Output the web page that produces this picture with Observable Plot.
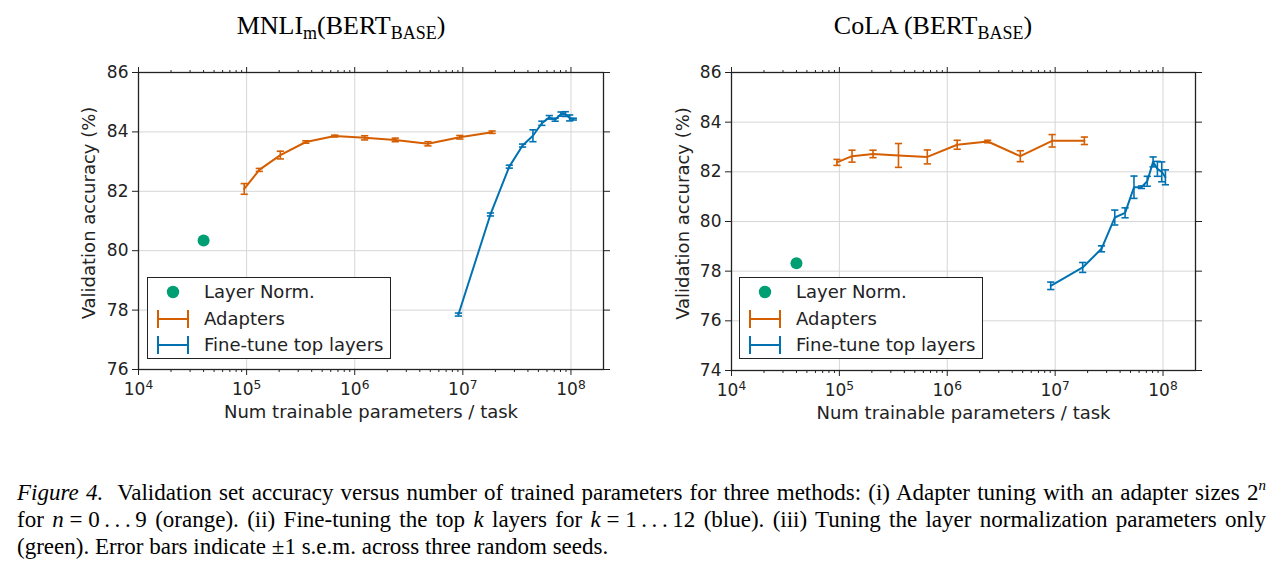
<!DOCTYPE html>
<html>
<head>
<meta charset="utf-8">
<script src="https://cdn.jsdelivr.net/npm/d3@7"></script>
<script src="https://cdn.jsdelivr.net/npm/@observablehq/plot@0.6"></script>
<style>
  html, body { margin: 0; padding: 0; background: #fff; }
  #root { position: relative; width: 1282px; height: 568px; overflow: hidden; background: #fff; }
  .panel { position: absolute; top: 0; }
  .title { position: absolute; top: 13px; width: 420px; text-align: center; font-family: "Liberation Serif", serif; font-size: 26px; line-height: 26px; color: #000; white-space: nowrap; }
  .title sub { font-size: 18px; vertical-align: -5px; line-height: 0; }
  .legend { position: absolute; top: 277px; height: 82px; border: 1.3px solid #222; background: #fff; box-sizing: border-box; font-family: "DejaVu Sans", sans-serif; font-size: 18px; color: #222; }
  .legend .row { position: absolute; left: 0; height: 26px; width: 100%; }
  .legend .row svg { position: absolute; left: 8px; top: 0; }
  .legend .row span { position: absolute; left: 56px; top: 2px; line-height: 22px; white-space: nowrap; }
  .cap { position: absolute; left: 17px; width: 1249px; font-family: "Liberation Serif", serif; font-size: 23px; line-height: 27px; color: #000; white-space: nowrap; }
  .just { text-align: justify; text-align-last: justify; }
  .cap i { font-style: italic; }
</style>
</head>
<body>
<div id="root"></div>
<script>
// ---------- data ----------
const xTickValues = [1e4, 1e5, 1e6, 1e7, 1e8];
const xTickExponents = ["4", "5", "6", "7", "8"];

const adapterParams = [95000, 131000, 205000, 353000, 653000, 1236000, 2371000, 4753000, 9376000, 18660000];
const finetuneParams = [9.1e6, 1.8e7, 2.69e7, 3.57e7, 4.45e7, 5.38e7, 6.31e7, 7.14e7, 8.09e7, 8.87e7, 9.73e7, 1.052e8];
const layerNormParams = [40000];

const mnliYTicks = [76, 78, 80, 82, 84, 86];
const mnliAdapterAcc = [82.08, 82.72, 83.22, 83.66, 83.86, 83.80, 83.73, 83.60, 83.82, 83.99];
const mnliAdapterErr = [0.18, 0.05, 0.13, 0.04, 0.03, 0.07, 0.06, 0.07, 0.06, 0.04];
const mnliFinetuneAcc = [77.85, 81.22, 82.83, 83.54, 83.87, 84.29, 84.49, 84.41, 84.60, 84.60, 84.47, 84.43];
const mnliFinetuneErr = [0.05, 0.05, 0.05, 0.05, 0.20, 0.07, 0.06, 0.05, 0.07, 0.08, 0.10, 0.03];
const mnliLayerNormAcc = [80.34];

const colaYTicks = [74, 76, 78, 80, 82, 84, 86];
const colaAdapterAcc = [82.38, 82.63, 82.72, 82.66, 82.60, 83.09, 83.22, 82.63, 83.25, 83.25];
const colaAdapterErr = [0.12, 0.24, 0.15, 0.48, 0.28, 0.18, 0.05, 0.22, 0.25, 0.15];
const colaFinetuneAcc = [77.41, 78.15, 78.90, 80.16, 80.35, 81.38, 81.38, 81.62, 82.40, 82.12, 82.00, 81.78];
const colaFinetuneErr = [0.15, 0.20, 0.12, 0.30, 0.20, 0.45, 0.05, 0.20, 0.20, 0.30, 0.40, 0.30];
const colaLayerNormAcc = [78.32];

const seriesNames = ["Layer Norm.", "Adapters", "Fine-tune top layers"];
const colors = { layerNorm: "#009e73", adapters: "#d55e00", finetune: "#0072b2" };

const xLabel = "Num trainable parameters / task";
const yLabel = "Validation accuracy (%)";

// ---------- helpers ----------
const xMinor = [];
for (let k = 4; k <= 8; k++) for (let m = 2; m <= 9; m++) { const v = m * 10 ** k; if (v < 2e8) xMinor.push(v); }

const capSymbol = { draw(ctx, size) { const r = Math.sqrt(size / Math.PI); ctx.moveTo(-r, 0); ctx.lineTo(r, 0); } };

function rows(xs, ys, es) { return xs.map((x, i) => ({ x, y: ys[i], e: es ? es[i] : 0 })); }

function errSeries(data, color) {
  return [
    Plot.line(data, { x: "x", y: "y", stroke: color, strokeWidth: 2 }),
    Plot.ruleX(data, { x: "x", y1: d => d.y - d.e, y2: d => d.y + d.e, stroke: color, strokeWidth: 1.6 }),
    Plot.dot(data, { x: "x", y: d => d.y + d.e, symbol: capSymbol, r: 3.6, stroke: color, strokeWidth: 1.6, fill: "none" }),
    Plot.dot(data, { x: "x", y: d => d.y - d.e, symbol: capSymbol, r: 3.6, stroke: color, strokeWidth: 1.6, fill: "none" })
  ];
}

function panel(o) {
  const adapters = rows(adapterParams, o.aAcc, o.aErr);
  const finetune = rows(finetuneParams, o.fAcc, o.fErr);
  const ln = rows(layerNormParams, o.lnAcc);
  const blank = () => "";
  const svg = Plot.plot({
    width: o.width, height: 440,
    marginLeft: o.ml, marginRight: o.mr, marginTop: o.mt, marginBottom: o.mb,
    x: { type: "log", domain: [1e4, 2e8], axis: null },
    y: { domain: o.yDomain, axis: null },
    style: { fontFamily: "DejaVu Sans, sans-serif", fontSize: "17px", color: "#222", background: "transparent", overflow: "visible" },
    marks: [
      Plot.gridX(xTickValues, { stroke: "#d6d6d6", strokeOpacity: 1, strokeWidth: 1 }),
      Plot.gridY(o.yTicks, { stroke: "#d6d6d6", strokeOpacity: 1, strokeWidth: 1 }),
      Plot.axisX(xTickValues, { anchor: "bottom", tickSize: 6, tickPadding: 7, tickFormat: d => "10^" + xTickExponents[xTickValues.indexOf(d)], label: null, fontSize: 17 }),
      Plot.axisX(xMinor, { anchor: "bottom", tickSize: 3, tickFormat: blank, label: null }),
      Plot.axisX(xTickValues, { anchor: "top", tickSize: 6, tickFormat: blank, label: null }),
      Plot.axisX(xMinor, { anchor: "top", tickSize: 3, tickFormat: blank, label: null }),
      Plot.axisY(o.yTicks, { anchor: "left", tickSize: 6, tickPadding: 4, label: null, fontSize: 17 }),
      Plot.axisY(o.yTicks, { anchor: "right", tickSize: 6, tickFormat: blank, label: null }),
      Plot.frame({ stroke: "#222", strokeWidth: 1.3 }),
      ...errSeries(adapters, colors.adapters),
      ...errSeries(finetune, colors.finetune),
      Plot.dot(ln, { x: "x", y: "y", r: 6, fill: colors.layerNorm, stroke: "none" }),
      Plot.text([xLabel], { frameAnchor: "bottom", dy: 48, fontSize: 18, fill: "#222" }),
      Plot.text([yLabel], { frameAnchor: "left", textAnchor: "middle", dx: o.ylabDx, dy: -8, rotate: -90, fontSize: 18, fill: "#222" })
    ]
  });
  // superscript exponents for the log tick labels
  d3.select(svg).selectAll("text").each(function () {
    const t = this.textContent;
    const m = /^10\^(\d)$/.exec(t);
    if (m) {
      const sel = d3.select(this);
      sel.text("10");
      sel.append("tspan").attr("dy", "-0.42em").attr("font-size", "0.72em").text(m[1]);
    }
  });
  return svg;
}

const root = document.getElementById("root");

function place(el, left) { el.classList.add("panel"); el.style.left = left + "px"; root.appendChild(el); }

place(panel({ width: 640, ml: 138, mr: 37, mt: 72, mb: 71, yDomain: [76, 86], yTicks: mnliYTicks,
  aAcc: mnliAdapterAcc, aErr: mnliAdapterErr, fAcc: mnliFinetuneAcc, fErr: mnliFinetuneErr, lnAcc: mnliLayerNormAcc, ylabDx: -49 }), 0);
place(panel({ width: 642, ml: 91, mr: 87, mt: 72, mb: 70, yDomain: [74, 86], yTicks: colaYTicks,
  aAcc: colaAdapterAcc, aErr: colaAdapterErr, fAcc: colaFinetuneAcc, fErr: colaFinetuneErr, lnAcc: colaLayerNormAcc, ylabDx: -48 }), 640);

// titles
function title(html, center) {
  const d = document.createElement("div"); d.className = "title"; d.innerHTML = html;
  d.style.left = (center - 210) + "px"; root.appendChild(d);
}
title("MNLI<sub>m</sub>(BERT<sub>BASE</sub>)", 341);
title("CoLA (BERT<sub>BASE</sub>)", 933);

// legends
function legend(left) {
  const d = document.createElement("div"); d.className = "legend"; d.style.left = left + "px"; d.style.width = "244px";
  const icons = [
    `<svg width="34" height="26"><circle cx="17" cy="13" r="6.2" fill="${colors.layerNorm}"/></svg>`,
    `<svg width="34" height="26"><g stroke="${colors.adapters}" stroke-width="2" fill="none"><line x1="2" y1="13" x2="32" y2="13"/><line x1="2" y1="4" x2="2" y2="22"/><line x1="32" y1="4" x2="32" y2="22"/></g></svg>`,
    `<svg width="34" height="26"><g stroke="${colors.finetune}" stroke-width="2" fill="none"><line x1="2" y1="13" x2="32" y2="13"/><line x1="2" y1="4" x2="2" y2="22"/><line x1="32" y1="4" x2="32" y2="22"/></g></svg>`
  ];
  const tops = [1, 27.5, 54];
  d.innerHTML = seriesNames.map((n, i) => `<div class="row" style="top:${tops[i]}px">${icons[i]}<span>${n}</span></div>`).join("");
  root.appendChild(d);
}
legend(147);
legend(739);

// caption
const capLines = [
  { top: 479, cls: "just", html: "<i>Figure 4.</i>&nbsp; Validation set accuracy versus number of trained parameters for three methods: (i) Adapter tuning with an adapter sizes 2<sup style=\"font-size:15px;font-style:italic;vertical-align:10px;line-height:0\">n</sup>" },
  { top: 506, cls: "just", html: "for <i>n</i>\u2005=\u20050\u2009.\u2009.\u2009.\u20099 (orange). (ii) Fine-tuning the top <i>k</i> layers for <i>k</i>\u2005=\u20051\u2009.\u2009.\u2009.\u200912 (blue). (iii) Tuning the layer normalization parameters only" },
  { top: 533, cls: "", html: "(green). Error bars indicate \u00b11 s.e.m. across three random seeds." }
];
capLines.forEach(l => { const d = document.createElement("div"); d.className = "cap " + l.cls; d.style.top = l.top + "px"; d.innerHTML = l.html; root.appendChild(d); });
</script>
</body>
</html>
